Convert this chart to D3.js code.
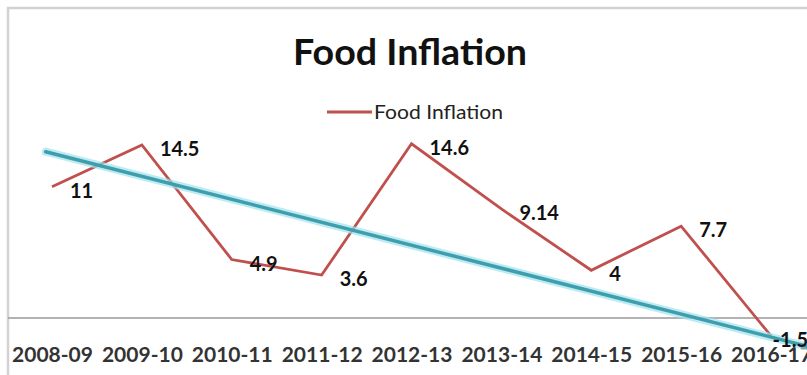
<!DOCTYPE html>
<html>
<head>
<meta charset="utf-8">
<script src="https://cdn.jsdelivr.net/npm/d3@7"></script>
<style>
  html, body { margin: 0; padding: 0; background: #fff; }
  svg { display: block; }
</style>
</head>
<body>
<svg id="chart" width="807" height="375"></svg>
<script>
// Chart data
const chartTitle = "Food Inflation";
const seriesName = "Food Inflation";
const categories = ["2008-09", "2009-10", "2010-11", "2011-12", "2012-13", "2013-14", "2014-15", "2015-16", "2016-17"];
const foodInflation = [11, 14.5, 4.9, 3.6, 14.6, 9.14, 4, 7.7, -1.5];
// Trend line values at the first and last category
const trendValues = [13.8, -1.6];

const W = 807, H = 375;
const chartBox = { left: 8, top: 8, right: 812, bottom: 420 };

const svg = d3.select("#chart");

const x = d3.scalePoint().domain(categories).range([52, 771]);
const y = d3.scaleLinear().domain([0, 14.5]).range([318, 145]);

// Chart frame
svg.append("rect")
  .attr("x", chartBox.left).attr("y", chartBox.top)
  .attr("width", chartBox.right - chartBox.left)
  .attr("height", chartBox.bottom - chartBox.top)
  .attr("fill", "#fff")
  .attr("stroke", "#d2d2d2")
  .attr("stroke-width", 2.5);

// Title
svg.append("text")
  .attr("x", 410).attr("y", 65)
  .attr("text-anchor", "middle")
  .attr("font-family", "Lato, 'Open Sans', sans-serif")
  .attr("font-weight", 700)
  .attr("font-size", 37)
  .attr("fill", "#111")
  .attr("textLength", 234)
  .attr("lengthAdjust", "spacingAndGlyphs")
  .text(chartTitle);

// Legend
const legend = svg.append("g");
legend.append("line")
  .attr("x1", 327).attr("x2", 372)
  .attr("y1", 112).attr("y2", 112)
  .attr("stroke", "#c0504d").attr("stroke-width", 3);
legend.append("text")
  .attr("x", 374).attr("y", 119)
  .attr("font-family", "Lato, 'Open Sans', sans-serif")
  .attr("font-size", 20)
  .attr("fill", "#222")
  .attr("textLength", 129)
  .attr("lengthAdjust", "spacingAndGlyphs")
  .text(seriesName);

// Horizontal axis at zero
svg.append("line")
  .attr("x1", chartBox.left).attr("x2", W)
  .attr("y1", y(0)).attr("y2", y(0))
  .attr("stroke", "#9a9a9a").attr("stroke-width", 1.5);

const axis = svg.append("g")
  .attr("transform", `translate(0,${y(0)})`)
  .call(d3.axisBottom(x).tickSize(0).tickPadding(29));
axis.select(".domain").remove();
axis.selectAll("text")
  .attr("font-family", "Lato, 'Open Sans', sans-serif")
  .attr("font-weight", 700)
  .attr("font-size", 21)
  .attr("fill", "#333");

// Series line
const line = d3.line()
  .x((d, i) => x(categories[i]))
  .y(d => y(d));
svg.append("path")
  .datum(foodInflation)
  .attr("d", line)
  .attr("fill", "none")
  .attr("stroke", "#c0504d")
  .attr("stroke-width", 2.8)
  .attr("stroke-linejoin", "miter");

// Linear trend line, extended slightly past both ends
const n = categories.length - 1;
const step = x.step();
const trendAt = t => trendValues[0] + (trendValues[1] - trendValues[0]) * t / n;
const trendPts = [-0.07, n + 0.5].map(t => [x(categories[0]) + t * step, y(trendAt(t))]);
const trendLine = d3.line();
svg.append("path")
  .attr("d", trendLine(trendPts))
  .attr("stroke", "#9fe2ef")
  .attr("stroke-opacity", 0.7)
  .attr("stroke-width", 8)
  .attr("stroke-linecap", "round")
  .attr("fill", "none");
svg.append("path")
  .attr("d", trendLine(trendPts))
  .attr("stroke", "#3e9eab")
  .attr("stroke-width", 3.5)
  .attr("stroke-linecap", "round")
  .attr("fill", "none");

// Data labels, placed to the right of each point, kept inside the chart frame
const labels = svg.append("g")
  .selectAll("text")
  .data(foodInflation)
  .join("text")
  .attr("y", d => y(d) + 3)
  .attr("dominant-baseline", "central")
  .attr("font-family", "Lato, 'Open Sans', sans-serif")
  .attr("font-weight", 700)
  .attr("font-size", 20)
  .attr("fill", "#111")
  .text(d => d);
labels.attr("x", function(d, i) {
  const w = this.getComputedTextLength();
  return Math.min(x(categories[i]) + 18, chartBox.right - w - 4);
});
</script>
</body>
</html>
